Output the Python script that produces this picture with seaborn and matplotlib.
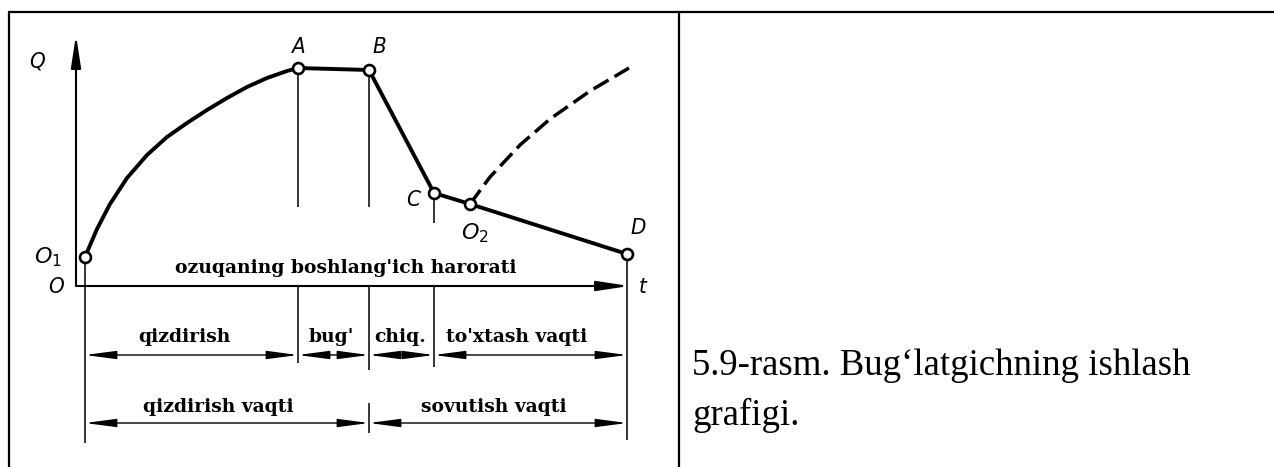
import matplotlib
matplotlib.use("Agg")
import matplotlib.pyplot as plt
from matplotlib.lines import Line2D
import seaborn as sns

# ---------------- data (t, Q in arbitrary units) ----------------
heat_t = [1.8, 4.2, 6.8, 10.2, 14.2, 18.2, 22.2, 26.2, 30.2, 34.2, 38.2, 42.2, 44.4]
heat_q = [11.6, 22.8, 32.8, 43.2, 52.4, 59.6, 65.2, 70.4, 75.2, 79.6, 83.2, 86.0, 87.2]

point_names = ["O1", "A", "B", "C", "O2", "D"]
point_t = [1.8, 44.4, 58.6, 71.6, 78.8, 110.2]
point_q = [11.6, 87.2, 86.4, 37.2, 32.8, 12.8]

dash_t = [78.8, 82.8, 88.8, 94.8, 102.8, 110.6]
dash_q = [32.8, 43.6, 56.4, 66.8, 78.0, 87.2]

phase_labels = ["qizdirish", "bug'", "chiq.", "to'xtash vaqti"]
period_labels = ["qizdirish vaqti", "sovutish vaqti"]
baseline_label = "ozuqaning boshlang'ich harorati"
caption_lines = ["5.9-rasm. Bug\u2018latgichning ishlash", "grafigi."]

# layout: small horizontal nudges of the row labels (t units)
phase_dx = [-1.4, -0.5, -0.3, -2.8]
period_dx = [-1.8, -0.8]

# ---------------- figure ----------------
sns.set_style("white")
W, H = 1274, 467
fig = plt.figure(figsize=(W / 100, H / 100), dpi=100)
ax = fig.add_axes([0, 0, 1, 1])
# 1 t-unit = 5 px, 1 Q-unit = 2.5 px, origin at (76, 286) px
ax.set_xlim(-76 / 5, (W - 76) / 5)
ax.set_ylim(-(H - 286) / 2.5, 286 / 2.5)
ax.axis("off")

K = "black"
T = dict(zip(point_names, point_t))
Qv = dict(zip(point_names, point_q))

# table frame
for xs, ys in [([9, W], [12, 12]), ([9, 9], [12, H]), ([679, 679], [12, H])]:
    fig.add_artist(Line2D([x / W for x in xs], [1 - y / H for y in ys],
                          transform=fig.transFigure, color=K, lw=1.6))

# axes with arrows
ax_arrow = dict(arrowstyle="-|>,head_length=1.3,head_width=0.2", color=K, lw=1.5,
                mutation_scale=15, shrinkA=0, shrinkB=0)
ax.annotate("", xy=(0, 100.4), xytext=(0, 0), arrowprops=ax_arrow)
ax.annotate("", xy=(110.6, 0), xytext=(0, 0), arrowprops=ax_arrow)

# main curve O1 -> A -> B -> C -> O2 -> D
main_t = heat_t + point_t[2:]
main_q = heat_q + point_q[2:]
sns.lineplot(x=main_t, y=main_q, sort=False, estimator=None, color=K, lw=2.8, ax=ax)
# dashed continuation
sns.lineplot(x=dash_t, y=dash_q, sort=False, estimator=None, color=K, lw=2.5,
             linestyle=(0, (5, 2)), ax=ax)

# vertical guide lines
thin = dict(color=K, lw=1.1)
ax.vlines(T["O1"], -62.8, Qv["O1"], **thin)
ax.vlines([T["A"], T["B"]], 31.6, [Qv["A"], Qv["B"]], **thin)
ax.vlines(T["C"], 25.2, Qv["C"], **thin)
ax.vlines([T["A"], T["B"], T["C"]], [-30.8, -33.6, -32.4], 0, **thin)
ax.vlines(T["D"], -61.6, Qv["D"], **thin)
ax.vlines(T["B"], -58.8, -46.8, **thin)

# points
sns.scatterplot(x=point_t, y=point_q, s=62, color="white", edgecolor=K,
                linewidth=1.9, zorder=5, ax=ax)

# point labels
lab = dict(family="DejaVu Sans", style="italic", stretch="condensed", size=16,
           ha="center", va="center", color=K)
ax.text(-7.8, 89.6, "Q", **lab)
ax.text(-4.0, -0.4, "O", **lab)
ax.text(-5.6, 11.6, "$O_1$", **lab)
ax.text(T["A"], 95.6, "A", **lab)
ax.text(T["B"] + 2.0, 95.6, "B", **lab)
ax.text(67.4, 34.4, "C", **lab)
ax.text(79.8, 21.0, "$O_2$", **lab)
ax.text(112.4, 23.2, "D", **lab)
ax.text(113.4, -0.4, "t", **lab)

bold = dict(family="DejaVu Serif", weight="bold", size=13.5, ha="center",
            va="center", color=K)
ax.text(54.0, 7.2, baseline_label, **bold)

# dimension rows
dim = dict(arrowstyle="<|-|>,head_length=1.9,head_width=0.25", color=K, lw=1.0,
           mutation_scale=10, shrinkA=0, shrinkB=0)
row1 = [T["O1"], T["A"], T["B"], T["C"], T["D"]]
for (a, b), txt, dx in zip(zip(row1[:-1], row1[1:]), phase_labels, phase_dx):
    ax.annotate("", xy=(a, -27.6), xytext=(b, -27.6), arrowprops=dim)
    ax.text((a + b) / 2 + dx, -20.4, txt, **bold)
row2 = [T["O1"], T["B"], T["D"]]
for (a, b), txt, dx in zip(zip(row2[:-1], row2[1:]), period_labels, period_dx):
    ax.annotate("", xy=(a, -54.8), xytext=(b, -54.8), arrowprops=dim)
    ax.text((a + b) / 2 + dx, -48.4, txt, **bold)

# caption
for i, line in enumerate(caption_lines):
    fig.text(692 / W, 1 - (366 + 49 * i) / H, line, family="Liberation Serif",
             size=26.5, ha="left", va="center", color=K)

fig.savefig("out.png", dpi=100)
